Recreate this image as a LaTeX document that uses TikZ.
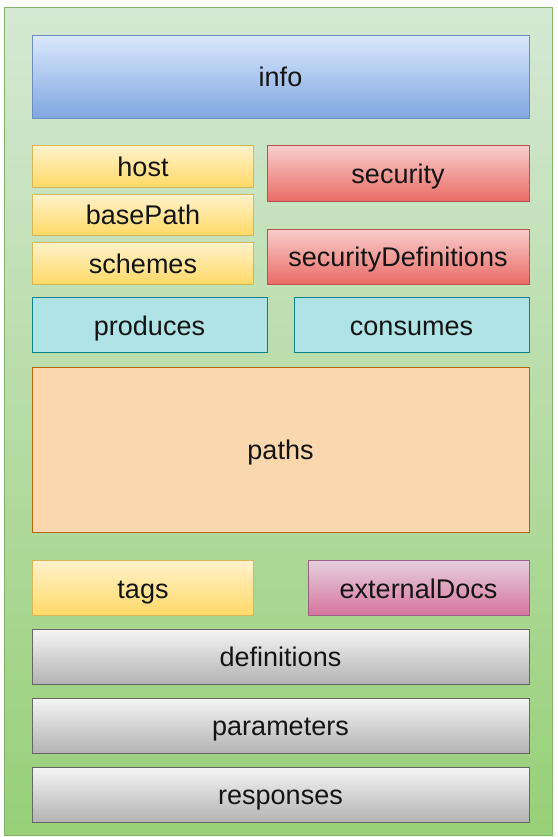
\documentclass[tikz,border=0pt]{standalone}
\usepackage{fontspec}
\setmainfont{Liberation Sans}
\definecolor{gT}{HTML}{D5E8D4}\definecolor{gB}{HTML}{97D077}\definecolor{gS}{HTML}{82B366}
\definecolor{bT}{HTML}{DAE8FC}\definecolor{bB}{HTML}{7EA6E0}\definecolor{bS}{HTML}{6C8EBF}
\definecolor{yT}{HTML}{FFF2CC}\definecolor{yB}{HTML}{FFD966}\definecolor{yS}{HTML}{D6B656}
\definecolor{rT}{HTML}{F8CECC}\definecolor{rB}{HTML}{EA6B66}\definecolor{rS}{HTML}{B85450}
\definecolor{tF}{HTML}{B0E3E6}\definecolor{tS}{HTML}{0E8088}
\definecolor{oF}{HTML}{FAD7AC}\definecolor{oS}{HTML}{B46504}
\definecolor{pT}{HTML}{E6D0DE}\definecolor{pB}{HTML}{D5739D}\definecolor{pS}{HTML}{996185}
\definecolor{kT}{HTML}{F5F5F5}\definecolor{kB}{HTML}{B3B3B3}\definecolor{kS}{HTML}{666666}
\definecolor{txt}{HTML}{141414}
\begin{document}
\begin{tikzpicture}[x=1pt,y=-1pt,
  box/.style={rectangle,inner sep=0pt,line width=1pt,font=\fontsize{27}{32}\selectfont,text=txt,text height=25pt,text depth=5pt},
  bluebox/.style={box,draw=bS,top color=bT,bottom color=bB},
  yelbox/.style={box,draw=yS,top color=yT,bottom color=yB},
  redbox/.style={box,draw=rS,top color=rT,bottom color=rB},
  tealbox/.style={box,draw=tS,fill=tF},
  orabox/.style={box,draw=oS,fill=oF},
  purbox/.style={box,draw=pS,top color=pT,bottom color=pB},
  graybox/.style={box,draw=kS,top color=kT,bottom color=kB}]
\useasboundingbox (0,0) rectangle (557,837);
\node[box,draw=gS,line width=1.2pt,top color=gT,bottom color=gB,minimum width=548pt,minimum height=828pt] (outer) at (278.5,421.5) {};
\node[bluebox,minimum width=497pt,minimum height=83pt] (info) at (280.5,77) {info};
\node[yelbox,minimum width=221pt,minimum height=41pt] (host) at (143,166.5) {host};
\node[yelbox,minimum width=221pt,minimum height=41pt] (basePath) at (143,214.5) {basePath};
\node[yelbox,minimum width=221pt,minimum height=42pt] (schemes) at (143,263) {schemes};
\node[redbox,minimum width=262pt,minimum height=55pt] (security) at (398,173.5) {security};
\node[redbox,minimum width=262pt,minimum height=55pt] (secdef) at (398,256.5) {securityDefinitions};
\node[tealbox,minimum width=235pt,minimum height=55pt] (produces) at (149.5,325) {produces};
\node[tealbox,minimum width=235pt,minimum height=55pt] (consumes) at (411.5,325) {consumes};
\node[orabox,minimum width=497pt,minimum height=165pt] (paths) at (280.5,449.5) {paths};
\node[yelbox,minimum width=221pt,minimum height=55pt] (tags) at (143,588) {tags};
\node[purbox,minimum width=221pt,minimum height=55pt] (extdocs) at (418.5,588) {externalDocs};
\node[graybox,minimum width=497pt,minimum height=55pt] (definitions) at (280.5,656.5) {definitions};
\node[graybox,minimum width=497pt,minimum height=55pt] (parameters) at (280.5,725.5) {parameters};
\node[graybox,minimum width=497pt,minimum height=55pt] (responses) at (280.5,794.5) {responses};
\end{tikzpicture}
\end{document}
